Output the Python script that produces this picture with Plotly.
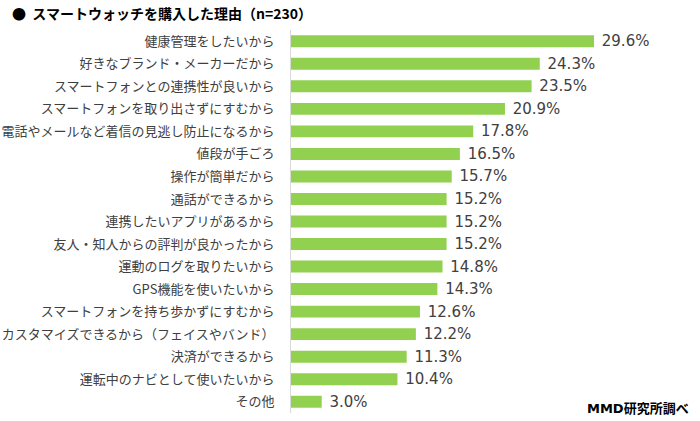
import plotly.graph_objects as go

categories = [
    "健康管理をしたいから",
    "好きなブランド・メーカーだから",
    "スマートフォンとの連携性が良いから",
    "スマートフォンを取り出さずにすむから",
    "電話やメールなど着信の見逃し防止になるから",
    "値段が手ごろ",
    "操作が簡単だから",
    "通話ができるから",
    "連携したいアプリがあるから",
    "友人・知人からの評判が良かったから",
    "運動のログを取りたいから",
    "GPS機能を使いたいから",
    "スマートフォンを持ち歩かずにすむから",
    "カスタマイズできるから（フェイスやバンド）",
    "決済ができるから",
    "運転中のナビとして使いたいから",
    "その他",
]
values = [29.6, 24.3, 23.5, 20.9, 17.8, 16.5, 15.7, 15.2, 15.2, 15.2, 14.8, 14.3, 12.6, 12.2, 11.3, 10.4, 3.0]

title_text = "●\u00a0\u00a0スマートウォッチを購入した理由（n=230）"
source_text = "MMD研究所調べ"

FONT = "DejaVu Sans, Noto Sans CJK JP, sans-serif"

fig = go.Figure(
    go.Bar(
        x=values,
        y=categories,
        orientation="h",
        marker=dict(color="#92D050", line=dict(width=0)),
        text=["\u00a0" + f"{v:.1f}%" for v in values],
        textposition="outside",
        constraintext="none",
        textfont=dict(size=15, color="#404040", family=FONT),
        cliponaxis=False,
        hoverinfo="skip",
    )
)

fig.update_layout(
    width=700,
    height=421,
    margin=dict(l=291, r=20, t=30, b=8, autoexpand=False),
    paper_bgcolor="white",
    plot_bgcolor="white",
    bargap=0.47,
    showlegend=False,
    font=dict(family=FONT, color="#404040"),
    title=dict(
        text=title_text,
        x=12 / 700,
        xanchor="left",
        xref="container",
        y=1 - 14 / 421,
        yanchor="middle",
        yref="container",
        font=dict(size=14, color="#000000", family="Noto Sans CJK JP, sans-serif", weight="bold"),
    ),
    xaxis=dict(
        range=[0, 38],
        showgrid=False,
        zeroline=False,
        showticklabels=False,
        showline=False,
        fixedrange=True,
        automargin=False,
    ),
    yaxis=dict(
        autorange="reversed",
        showgrid=False,
        showline=True,
        linecolor="#D9D9D9",
        linewidth=1,
        ticks="",
        ticklabelstandoff=13,
        automargin=False,
        tickfont=dict(size=13, color="#404040", family="Noto Sans CJK JP, sans-serif"),
        fixedrange=True,
    ),
    annotations=[
        dict(
            text=source_text,
            xref="paper",
            yref="paper",
            x=(691 - 291) / 389,
            y=(413 - 408) / 383,
            xanchor="right",
            yanchor="middle",
            showarrow=False,
            font=dict(size=13, color="#000000", family="DejaVu Sans, Noto Sans CJK JP", weight="bold"),
        )
    ],
)

fig.write_html(
    "out.html",
    config={"displayModeBar": False},
    post_script="document.body.style.margin='0';document.body.style.overflow='hidden';",
)
